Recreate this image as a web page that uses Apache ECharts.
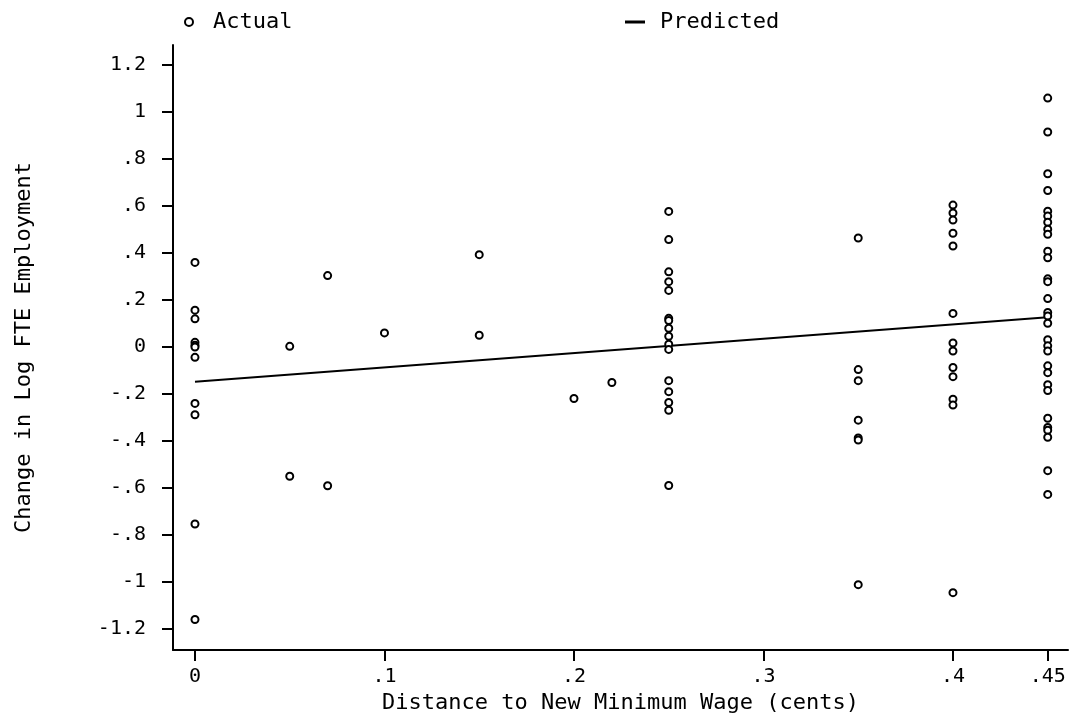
<!DOCTYPE html>
<html>
<head>
<meta charset="utf-8">
<script src="https://cdn.jsdelivr.net/npm/echarts@6/dist/echarts.min.js"></script>
<style>
html, body { margin: 0; padding: 0; background: #fff; }
#main { width: 1074px; height: 721px; }
</style>
</head>
<body>
<div id="main"></div>
<script>
// distance to new minimum wage (x) and change in log FTE employment (y), read per column
var actual_00 = [0.36, 0.157, 0.12, 0.02, 0.008, 0.0, -0.044, -0.24, -0.288, -0.753, -1.159];
var actual_05 = [0.003, -0.55];
var actual_07 = [0.304, -0.59];
var actual_10 = [0.06];
var actual_15 = [0.393, 0.05];
var actual_20 = [-0.219];
var actual_22 = [-0.151];
var actual_25 = [0.577, 0.457, 0.32, 0.278, 0.241, 0.122, 0.113, 0.08, 0.046, 0.012, -0.01, -0.143, -0.19, -0.236, -0.269, -0.589];
var actual_35 = [0.464, -0.096, -0.143, -0.311, -0.387, -0.396, -1.011];
var actual_40 = [0.604, 0.57, 0.54, 0.484, 0.43, 0.143, 0.017, -0.017, -0.087, -0.126, -0.222, -0.247, -1.045];
var actual_45 = [1.059, 0.915, 0.737, 0.666, 0.578, 0.557, 0.531, 0.501, 0.48, 0.408, 0.38, 0.29, 0.278, 0.206, 0.147, 0.132, 0.101, 0.031, 0.005, -0.017, -0.08, -0.109, -0.16, -0.185, -0.303, -0.342, -0.354, -0.384, -0.526, -0.627];

var xLevels = [0, 0.05, 0.07, 0.1, 0.15, 0.2, 0.22, 0.25, 0.35, 0.4, 0.45];
var columns = [actual_00, actual_05, actual_07, actual_10, actual_15, actual_20, actual_22, actual_25, actual_35, actual_40, actual_45];

var predX = [0, 0.45];
var predY = [-0.148, 0.127];

var xTicks = [0, 0.1, 0.2, 0.3, 0.4, 0.45];
var yTicks = [-1.2, -1, -0.8, -0.6, -0.4, -0.2, 0, 0.2, 0.4, 0.6, 0.8, 1, 1.2];

var actualData = [];
xLevels.forEach(function (x, i) {
    columns[i].forEach(function (y) { actualData.push([x, y]); });
});
var predData = predX.map(function (x, i) { return [x, predY[i]]; });

function fmt(v) {
    var s = String(Math.round(v * 100) / 100);
    return s.replace('0.', '.');
}

var font = 'DejaVu Sans Mono';

var option = {
    animation: false,
    backgroundColor: '#fff',
    textStyle: { fontFamily: font, color: '#000' },
    legend: [
        {
            data: ['Actual'],
            left: 179, top: 6,
            itemWidth: 8, itemHeight: 8,
            textStyle: { fontFamily: font, fontSize: 22, color: '#000', padding: [0, 0, 0, 15] }
        },
        {
            data: [{ name: 'Predicted', icon: 'rect' }],
            left: 620, top: 6,
            itemWidth: 20, itemHeight: 3,
            textStyle: { fontFamily: font, fontSize: 22, color: '#000', padding: [0, 0, 0, 10] }
        }
    ],
    grid: {
        left: 173, right: 6, top: 45, bottom: 71,
        containLabel: false, outerBoundsMode: 'none'
    },
    xAxis: {
        type: 'value',
        min: -0.0116, max: 0.4607,
        name: 'Distance to New Minimum Wage (cents)',
        nameLocation: 'middle',
        nameGap: 38,
        nameTextStyle: { fontFamily: font, fontSize: 22, color: '#000' },
        splitLine: { show: false },
        axisLine: { onZero: false, lineStyle: { color: '#000', width: 2 } },
        axisTick: { length: 11, inside: false, lineStyle: { color: '#000', width: 2 }, customValues: xTicks },
        axisLabel: { margin: 17, fontFamily: font, fontSize: 20, color: '#000', customValues: xTicks, formatter: fmt }
    },
    yAxis: {
        type: 'value',
        min: -1.289, max: 1.285,
        name: 'Change in Log FTE Employment',
        nameLocation: 'middle',
        nameGap: 138,
        nameTextStyle: { fontFamily: font, fontSize: 22, color: '#000' },
        splitLine: { show: false },
        axisLine: { onZero: false, lineStyle: { color: '#000', width: 2 } },
        axisTick: { length: 11, inside: false, lineStyle: { color: '#000', width: 2 }, customValues: yTicks },
        axisLabel: { margin: 27, fontFamily: font, fontSize: 20, color: '#000', customValues: yTicks, formatter: fmt }
    },
    series: [
        {
            name: 'Actual',
            type: 'scatter',
            symbol: 'emptyCircle',
            symbolSize: 7,
            itemStyle: { color: '#000', borderColor: '#000', borderWidth: 1.8, opacity: 1 },
            data: actualData,
            z: 3
        },
        {
            name: 'Predicted',
            type: 'line',
            symbol: 'none',
            lineStyle: { color: '#000', width: 2 },
            itemStyle: { color: '#000' },
            data: predData,
            z: 2
        }
    ]
};

var mychart = echarts.init(document.getElementById('main'));
mychart.setOption(option);
</script>
</body>
</html>
